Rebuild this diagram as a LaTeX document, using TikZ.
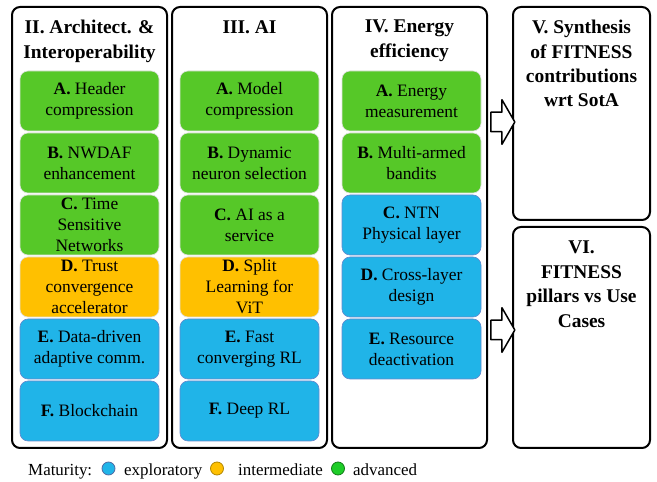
\documentclass[tikz,border=0pt]{standalone}
\usepackage{fontspec}
\setmainfont{Liberation Serif}
\usetikzlibrary{shapes.arrows}
\definecolor{advgreen}{RGB}{86,200,40}
\definecolor{midorange}{RGB}{255,192,0}
\definecolor{expblue}{RGB}{32,180,232}
\definecolor{edgeblue}{RGB}{100,135,205}
\definecolor{dotgreen}{RGB}{30,205,40}

\begin{document}
\begin{tikzpicture}[>=latex,line join=round,
  pillar/.style={draw,line width=2bp,rounded corners=8bp,minimum width=155bp,minimum height=441bp},
  outbox/.style={draw,line width=2bp,rounded corners=8bp,minimum width=137bp},
  title/.style={anchor=north,inner sep=0pt,align=center,font=\fontsize{19.5}{24.5}\selectfont\bfseries},
  topic/.style={line width=0.6bp,rounded corners=8bp,minimum width=139bp,minimum height=60bp,
    inner sep=0pt,align=center,font=\fontsize{17.5}{21}\selectfont},
  adv/.style={topic,fill=advgreen,draw=gray!25},
  mid/.style={topic,fill=midorange,draw=gray!25},
  expl/.style={topic,fill=expblue,draw=edgeblue},
  fatarrow/.style={draw,line width=1.5bp,fill=white,single arrow,minimum height=24bp,inner xsep=0pt,
    inner ysep=9bp,single arrow head extend=12.5bp,single arrow tip angle=120},
  dot/.style={circle,inner sep=0pt,minimum size=13bp,line width=0.8bp},
  leg/.style={inner sep=0pt,font=\fontsize{17}{20}\selectfont},
]
\useasboundingbox (0bp,0bp) rectangle (657bp,482bp);
%%
  \node (col2) at (89.5bp,254.5bp) [pillar] {};
  \node (col3) at (249.5bp,254.5bp) [pillar] {};
  \node (col4) at (409.5bp,254.5bp) [pillar] {};
  \node (synth) at (581.5bp,368.5bp) [outbox,minimum height=213bp] {};
  \node (pillars) at (581.5bp,144.5bp) [outbox,minimum height=221bp] {};
  \node (col2lab) at (89.5bp,462bp) [title] {II. Architect. \&\\Interoperability};
  \node (col3lab) at (249.5bp,462bp) [title] {III. AI};
  \node (col4lab) at (409.5bp,462bp) [title] {IV. Energy\\efficiency};
  \node (synthlab) at (581.5bp,462bp) [title] {V. Synthesis\\of FITNESS\\contributions\\wrt SotA};
  \node (pillarslab) at (581.5bp,241bp) [title] {VI.\\FITNESS\\pillars vs Use\\Cases};
%% architecture
  \node (archA) at (89.5bp,381bp) [adv] {\textbf{A.} Header\\compression};
  \node (archB) at (89.5bp,319bp) [adv] {\textbf{B.} NWDAF\\enhancement};
  \node (archC) at (89.5bp,257bp) [adv] {\textbf{C.} Time\\Sensitive\\Networks};
  \node (archD) at (89.5bp,195bp) [mid] {\textbf{D.} Trust\\convergence\\accelerator};
  \node (archE) at (89.5bp,133bp) [expl] {\textbf{E.} Data-driven\\adaptive comm.};
  \node (archF) at (89.5bp,71bp) [expl] {\textbf{F.} Blockchain};
%% ai
  \node (aiA) at (249.5bp,381bp) [adv] {\textbf{A.} Model\\compression};
  \node (aiB) at (249.5bp,319bp) [adv] {\textbf{B.} Dynamic\\neuron selection};
  \node (aiC) at (249.5bp,257bp) [adv] {\textbf{C.} AI as a\\service};
  \node (aiD) at (249.5bp,195bp) [mid] {\textbf{D.} Split\\Learning for\\ViT};
  \node (aiE) at (249.5bp,133bp) [expl] {\textbf{E.} Fast\\converging RL};
  \node (aiF) at (249.5bp,71bp) [expl] {\textbf{F.} Deep RL};
%% energy
  \node (enA) at (411.5bp,381bp) [adv] {\textbf{A.} Energy\\measurement};
  \node (enB) at (411.5bp,319bp) [adv] {\textbf{B.} Multi-armed\\bandits};
  \node (enC) at (411.5bp,257bp) [expl] {\textbf{C.} NTN\\Physical layer};
  \node (enD) at (411.5bp,195bp) [expl] {\textbf{D.} Cross-layer\\design};
  \node (enE) at (411.5bp,133bp) [expl] {\textbf{E.} Resource\\deactivation};
%% block arrows
  \node (toSynth) at (500bp,360bp) [fatarrow] {};
  \node (toPillars) at (500bp,152bp) [fatarrow] {};
%% legend
  \node (mat) at (28bp,7bp) [leg,anchor=base west] {Maturity:};
  \node (dotexp) at (108.5bp,13.5bp) [dot,fill=expblue,draw=edgeblue!80!black] {};
  \node (txtexp) at (124bp,7bp) [leg,anchor=base west] {exploratory};
  \node (dotmid) at (217bp,13.5bp) [dot,fill=midorange,draw=midorange!70!black] {};
  \node (txtmid) at (238bp,7bp) [leg,anchor=base west] {intermediate};
  \node (dotadv) at (338bp,13.5bp) [dot,fill=dotgreen,draw=dotgreen!60!black] {};
  \node (txtadv) at (353bp,7bp) [leg,anchor=base west] {advanced};
%
\end{tikzpicture}
\end{document}
